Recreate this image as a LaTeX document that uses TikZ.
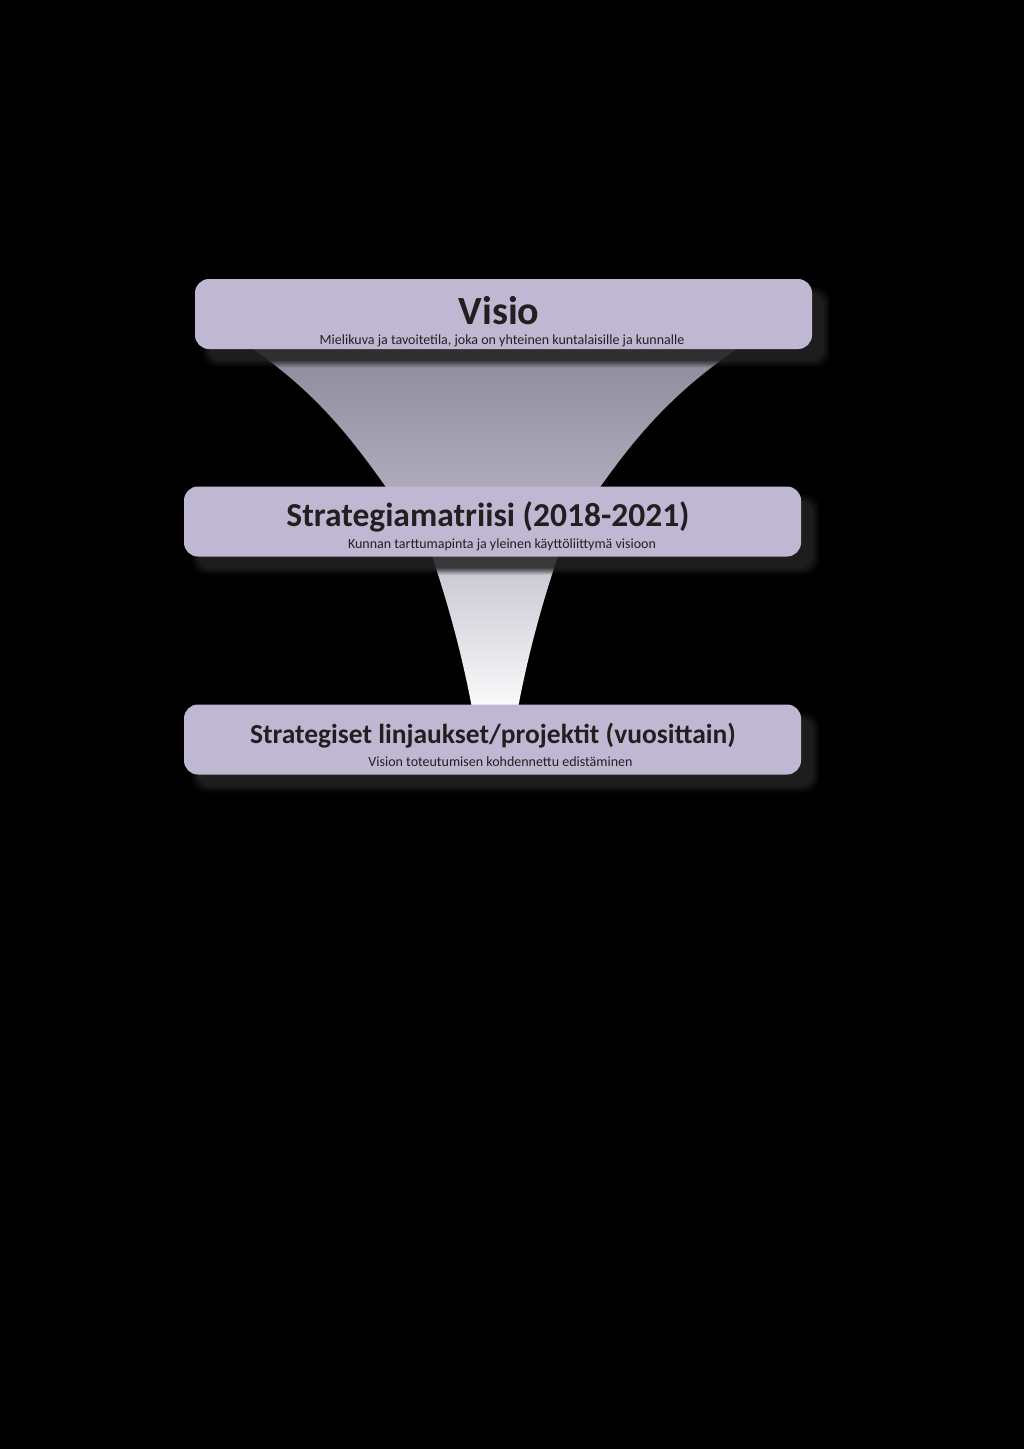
\documentclass[tikz,border=0pt]{standalone}
\usepackage{fontspec}
\setmainfont{Carlito}
\definecolor{boxc}{RGB}{192,184,210}
\definecolor{txtc}{RGB}{35,31,32}
\definecolor{shadowc}{RGB}{34,34,34}
\definecolor{fonetop}{RGB}{140,136,154}
\definecolor{fonebot}{RGB}{174,171,187}
\definecolor{ftwotop}{RGB}{196,194,206}
\definecolor{ftwobot}{RGB}{250,250,251}
\pgfdeclarelayer{bg}
\pgfsetlayers{bg,main}
\begin{document}
\begin{tikzpicture}[x=1pt,y=-1pt,
  levelbox/.style={fill=boxc, rounded corners=14pt, minimum width=617pt, minimum height=70pt, inner sep=0pt},
  bigtitle/.style={anchor=base, text=txtc, inner sep=0pt, font=\bfseries\fontsize{40}{40}\selectfont},
  title/.style={anchor=base, text=txtc, inner sep=0pt, font=\bfseries\fontsize{33.5}{33.5}\selectfont},
  smalltitle/.style={anchor=base, text=txtc, inner sep=0pt, font=\bfseries\fontsize{27.5}{27.5}\selectfont},
  subtitle/.style={anchor=base, text=txtc, inner sep=0pt, font=\fontsize{14}{14}\selectfont}]
\useasboundingbox (0,0) rectangle (1024,1449);

% boxes
\node[levelbox] (b1) at (503.5,314) {};
\node[levelbox] (b2) at (492.5,521.5) {};
\node[levelbox] (b3) at (492.5,739.5) {};

% texts
\node[bigtitle] (t1) at (499,324.5) {Visio};
\node[subtitle] (s1) at (502,344) {Mielikuva ja tavoitetila, joka on yhteinen kuntalaisille ja kunnalle};
\node[title] (t2) at (488,526) {Strategiamatriisi (2018-2021)};
\node[subtitle] (s2) at (502,548) {Kunnan tarttumapinta ja yleinen käyttöliittymä visioon};
\node[smalltitle] (t3) at (493,743) {Strategiset linjaukset/projektit (vuosittain)};
\node[subtitle] (s3) at (500.5,766) {Vision toteutumisen kohdennettu edistäminen};

\begin{pgfonlayer}{bg}
  \fill[black] (0,0) rectangle (1024,1449);
  % funnel between Visio and Strategiamatriisi
  \shade[top color=fonetop, bottom color=fonebot]
    (253,340) -- (253,349) .. controls (319,395) and (354,442) .. (388,490)
    -- (598,490) .. controls (632,442) and (669,395) .. (737,349) -- (737,340) -- cycle;
  % funnel between Strategiamatriisi and linjaukset
  \shade[top color=ftwotop, bottom color=ftwobot]
    (432,550) -- (432,556) .. controls (449,607) and (462,655) .. (472,708)
    -- (518,708) .. controls (528,655) and (541,607) .. (558,556) -- (558,550) -- cycle;
  % shadows
  \foreach \b in {b1,b2,b3}{
    \foreach \d/\o in {5/0.2,3/0.3,1/0.4,-1/0.6}{
      \fill[shadowc, opacity=\o, rounded corners=14pt]
        ([shift={(13-\d,13-\d)}]\b.north west) rectangle ([shift={(13+\d,13+\d)}]\b.south east);
    }
  }
\end{pgfonlayer}
\end{tikzpicture}
\end{document}
